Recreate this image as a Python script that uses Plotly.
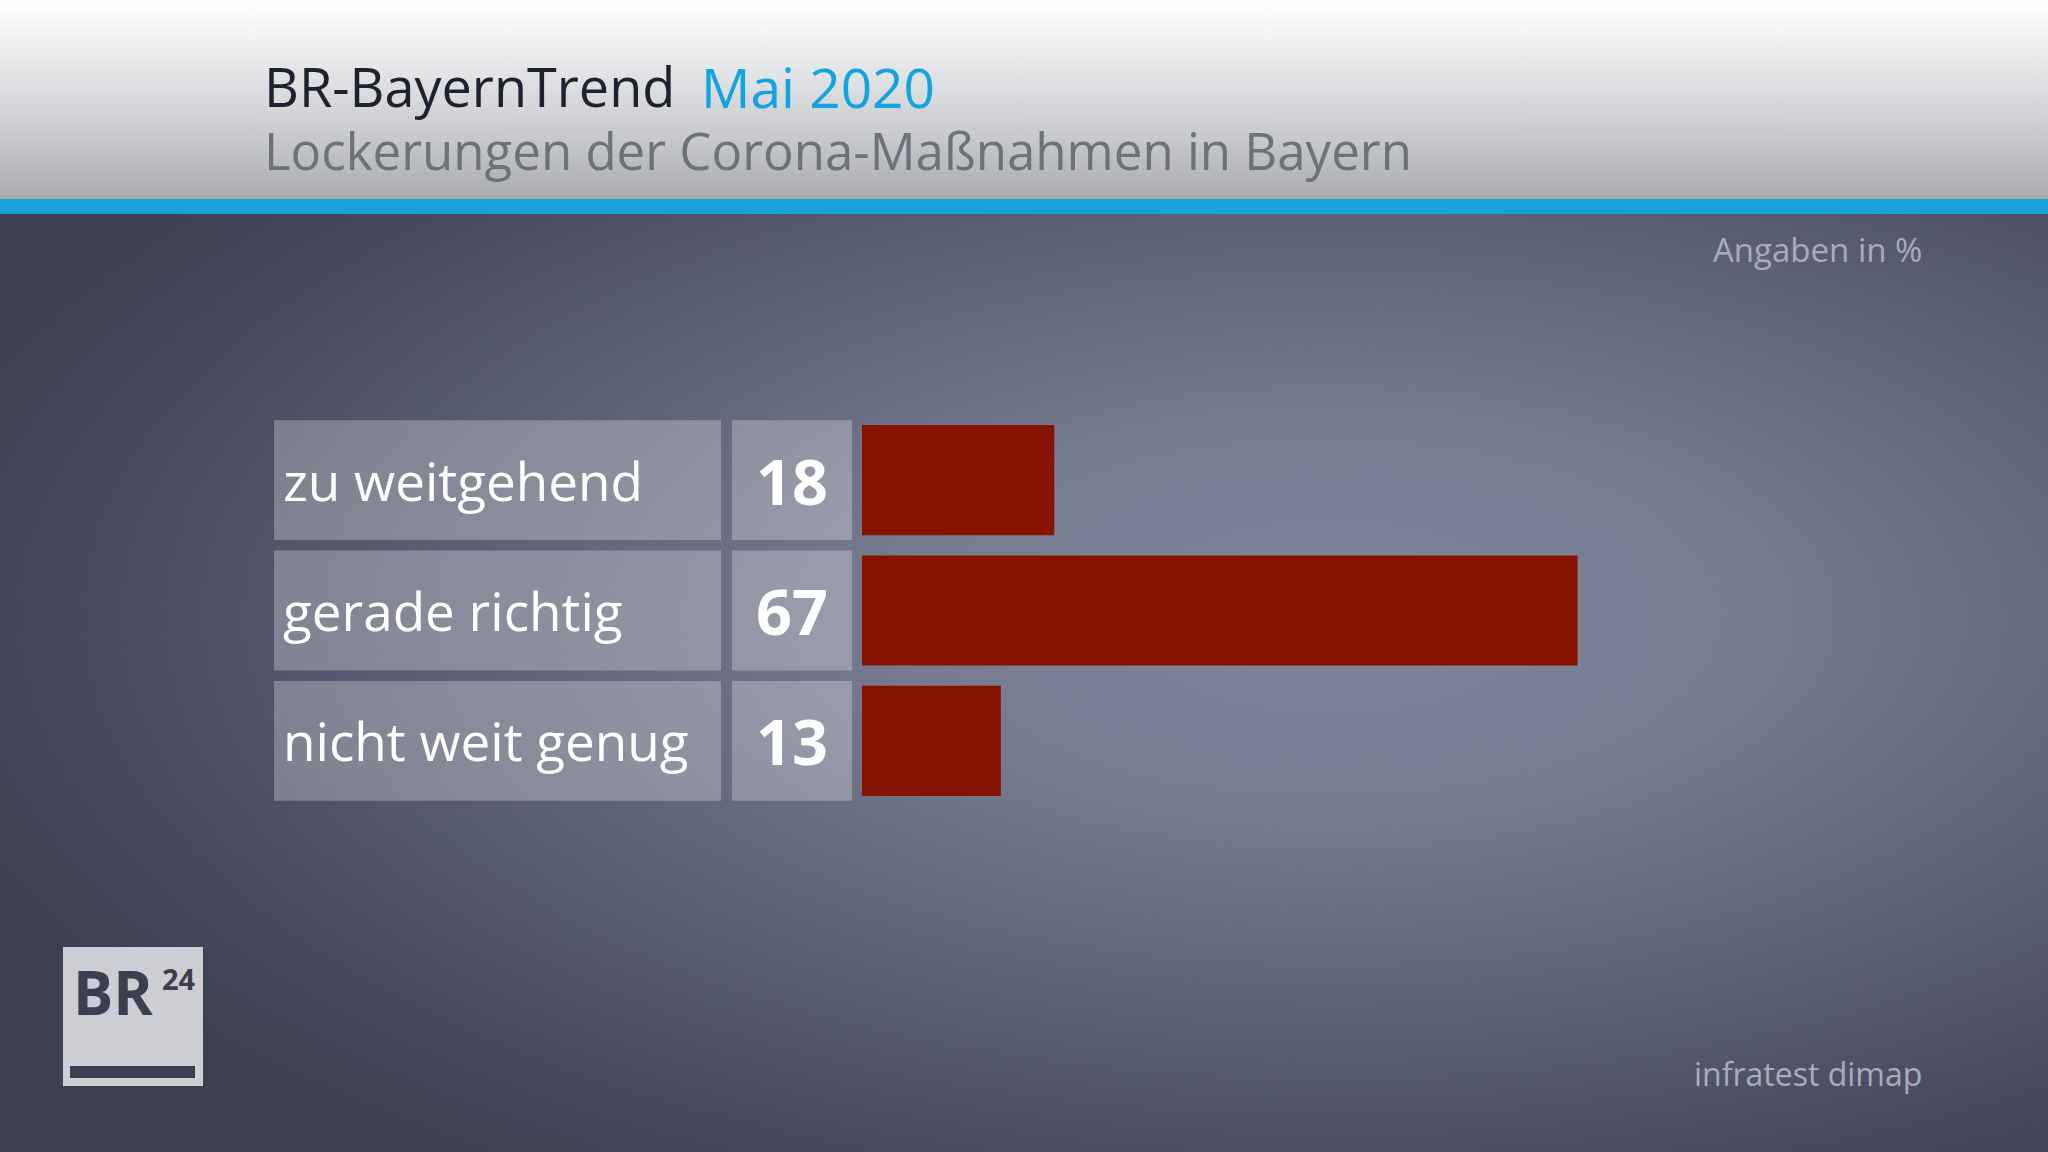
import base64
import plotly.graph_objects as go

# ---- data ----
categories = ["zu weitgehend", "gerade richtig", "nicht weit genug"]
values = [18, 67, 13]
title_main = "BR-BayernTrend"
title_date = "Mai 2020"
subtitle = "Lockerungen der Corona-Maßnahmen in Bayern"
unit_note = "Angaben in %"
source_note = "infratest dimap"

W, H = 2048, 1152
FONT = "Open Sans"


def px(x):
    return x / W


def py(y):
    return 1 - y / H


def svg_uri(svg):
    return "data:image/svg+xml;base64," + base64.b64encode(svg.encode()).decode()


header_svg = f"""<svg xmlns='http://www.w3.org/2000/svg' width='{W}' height='200' preserveAspectRatio='none' viewBox='0 0 {W} 200'>
<defs><linearGradient id='g' x1='0' y1='0' x2='0' y2='1'>
<stop offset='0' stop-color='#ffffff'/>
<stop offset='0.3' stop-color='#e8e9eb'/>
<stop offset='0.7' stop-color='#c6c8cb'/>
<stop offset='1' stop-color='#a7a9ad'/>
</linearGradient></defs>
<rect x='0' y='0' width='{W}' height='200' fill='url(#g)'/></svg>"""

body_h = H - 214
body_svg = f"""<svg xmlns='http://www.w3.org/2000/svg' width='{W}' height='{body_h}' preserveAspectRatio='none' viewBox='0 0 {W} {body_h}'>
<defs><radialGradient id='r' cx='0.65' cy='0.43' r='0.72' gradientUnits='objectBoundingBox'>
<stop offset='0' stop-color='#80869c'/>
<stop offset='0.3' stop-color='#757a8f'/>
<stop offset='0.6' stop-color='#5c6074'/>
<stop offset='0.85' stop-color='#46495c'/>
<stop offset='1' stop-color='#3d4050'/>
</radialGradient></defs>
<rect x='0' y='0' width='{W}' height='{body_h}' fill='url(#r)'/></svg>"""

fig = go.Figure()
fig.add_trace(go.Bar(
    x=values, y=categories, orientation="h",
    marker=dict(color="#861300", line=dict(width=0)),
    width=0.845, hoverinfo="skip",
))

row_top, row_bot = 415, 806
bar_x0, bar_x1 = 862, 862 + 1068

shapes = []
annotations = []

# blue line under header
shapes.append(dict(type="rect", xref="paper", yref="paper", x0=0, x1=1,
                   y0=py(214), y1=py(199), fillcolor="#18a2db", line_width=0, layer="below"))

# panels
for i, (cat, val) in enumerate(zip(categories, values)):
    for (a, b) in [(274, 721), (732, 852)]:
        shapes.append(dict(type="rect", xref="paper", yref="y",
                           x0=px(a), x1=px(b), y0=i - 0.46, y1=i + 0.46,
                           fillcolor="rgba(255,255,255,0.27)", line_width=0, layer="below"))
    annotations.append(dict(xref="paper", yref="y", x=px(281), y=i, text=cat,
                            xanchor="left", yanchor="middle", showarrow=False,
                            font=dict(family=FONT, size=53, color="#ffffff")))
    annotations.append(dict(xref="paper", yref="y", x=px(792), y=i, text=f"<b>{val}</b>",
                            xanchor="center", yanchor="middle", showarrow=False,
                            font=dict(family=FONT, size=63, color="#ffffff")))

# header texts
annotations.append(dict(xref="paper", yref="paper", x=px(262), y=py(86), text=title_main,
                        xanchor="left", yanchor="middle", showarrow=False,
                        font=dict(family=FONT, size=54, color="#1f2130")))
annotations.append(dict(xref="paper", yref="paper", x=px(699), y=py(86), text=title_date,
                        xanchor="left", yanchor="middle", showarrow=False,
                        font=dict(family=FONT, size=55, color="#12a4e0")))
annotations.append(dict(xref="paper", yref="paper", x=px(262), y=py(150), text=subtitle,
                        xanchor="left", yanchor="middle", showarrow=False,
                        font=dict(family=FONT, size=51, color="#6c717b")))

# notes
annotations.append(dict(xref="paper", yref="paper", x=px(1924), y=py(250), text=unit_note,
                        xanchor="right", yanchor="middle", showarrow=False,
                        font=dict(family=FONT, size=33, color="#a8acba")))
annotations.append(dict(xref="paper", yref="paper", x=px(1924), y=py(1073), text=source_note,
                        xanchor="right", yanchor="middle", showarrow=False,
                        font=dict(family=FONT, size=32, color="#a8acba")))

# logo
shapes.append(dict(type="rect", xref="paper", yref="paper", x0=px(63), x1=px(203),
                   y0=py(1086), y1=py(947), fillcolor="#cdced3", line_width=0))
shapes.append(dict(type="rect", xref="paper", yref="paper", x0=px(70), x1=px(195),
                   y0=py(1078), y1=py(1066), fillcolor="#3c3f4f", line_width=0))
annotations.append(dict(xref="paper", yref="paper", x=px(71), y=py(992), text="<b>BR</b>",
                        xanchor="left", yanchor="middle", showarrow=False,
                        font=dict(family=FONT, size=60, color="#3c3f4f")))
annotations.append(dict(xref="paper", yref="paper", x=px(198), y=py(978), text="<b>24</b>",
                        xanchor="right", yanchor="middle", showarrow=False,
                        font=dict(family=FONT, size=29, color="#3c3f4f")))

fig.update_layout(
    width=W, height=H,
    margin=dict(l=0, r=0, t=0, b=0),
    paper_bgcolor="#3c3f4f",
    plot_bgcolor="rgba(0,0,0,0)",
    showlegend=False,
    xaxis=dict(domain=[px(bar_x0), px(bar_x1)], range=[0, 100], visible=False, fixedrange=True),
    yaxis=dict(domain=[py(row_bot), py(row_top)], range=[2.5, -0.5], visible=False,
               type="category", categoryorder="array", categoryarray=categories, fixedrange=True),
    shapes=shapes,
    annotations=annotations,
    images=[
        dict(source=svg_uri(header_svg), xref="paper", yref="paper", x=0, y=1,
             sizex=1, sizey=200 / H, sizing="stretch", xanchor="left", yanchor="top", layer="below"),
        dict(source=svg_uri(body_svg), xref="paper", yref="paper", x=0, y=py(214),
             sizex=1, sizey=body_h / H, sizing="stretch", xanchor="left", yanchor="top", layer="below"),
    ],
    bargap=0.15,
)

fig.write_html("out.html", config={"displayModeBar": False})
